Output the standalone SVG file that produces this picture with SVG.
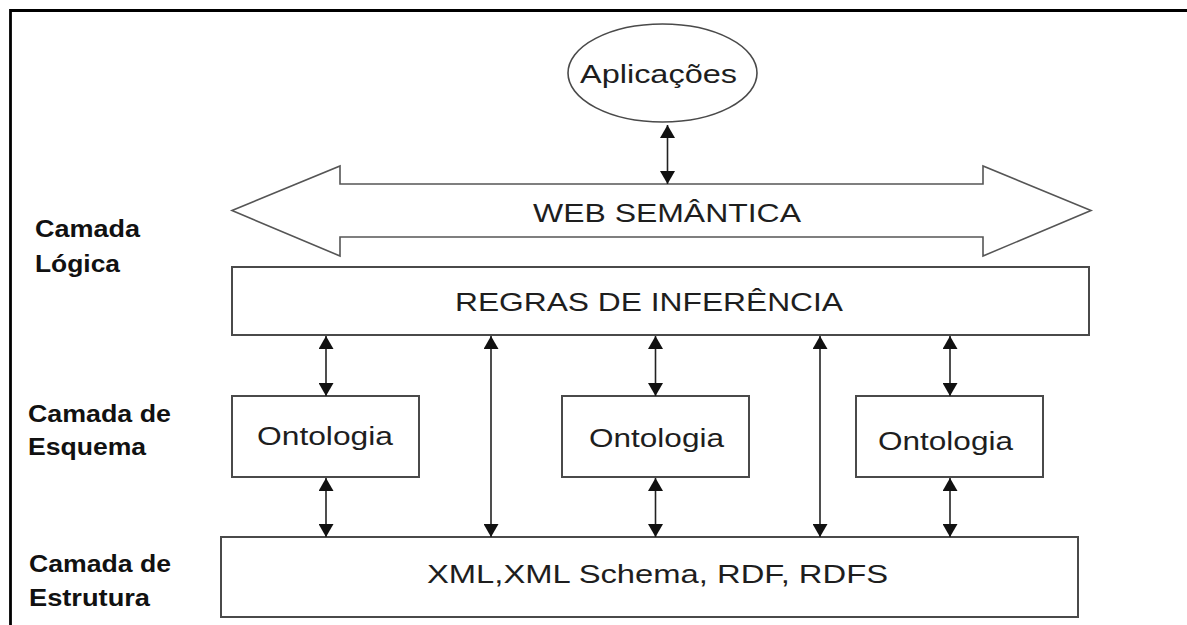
<svg xmlns="http://www.w3.org/2000/svg" width="1187" height="625" viewBox="0 0 1187 625">
  <style>
    .box { fill: #ffffff; stroke: #4a4a4a; stroke-width: 2; }
    .t { font-family: "Liberation Sans", Arial, sans-serif; font-size: 26px; fill: #1e1e1e; }
    .lbl { font-family: "Liberation Sans", Arial, sans-serif; font-size: 23px; font-weight: bold; fill: #111; }
    .conn { stroke: #222; stroke-width: 1.6; fill: none; marker-start: url(#ah); marker-end: url(#ah); }
  </style>
  <defs>
    <marker id="ah" viewBox="0 0 13 15" refX="13" refY="7.5" markerWidth="13" markerHeight="15" markerUnits="userSpaceOnUse" orient="auto-start-reverse">
      <path d="M0,0 L13,7.5 L0,15 z" fill="#111"/>
    </marker>
  </defs>
  <rect x="0" y="0" width="1187" height="625" fill="#ffffff"/>
  <!-- frame -->
  <path d="M10.5,625 L10.5,10.5 L1187,10.5" fill="none" stroke="#000" stroke-width="2.8"/>

  <!-- layer labels -->
  <g id="label-logica">
    <text class="lbl" x="35" y="237" textLength="105" lengthAdjust="spacingAndGlyphs">Camada</text>
    <text class="lbl" x="35" y="272" textLength="85" lengthAdjust="spacingAndGlyphs">Lógica</text>
  </g>
  <g id="label-esquema">
    <text class="lbl" x="28" y="422" textLength="143" lengthAdjust="spacingAndGlyphs">Camada de</text>
    <text class="lbl" x="28" y="455" textLength="118" lengthAdjust="spacingAndGlyphs">Esquema</text>
  </g>
  <g id="label-estrutura">
    <text class="lbl" x="29" y="572" textLength="142" lengthAdjust="spacingAndGlyphs">Camada de</text>
    <text class="lbl" x="29" y="606" textLength="121" lengthAdjust="spacingAndGlyphs">Estrutura</text>
  </g>

  <!-- nodes -->
  <g id="aplicacoes">
    <ellipse cx="662.5" cy="73" rx="94.5" ry="49" fill="#fff" stroke="#4a4a4a" stroke-width="1.6"/>
    <text class="t" x="580" y="83" textLength="157" lengthAdjust="spacingAndGlyphs">Aplicações</text>
  </g>
  <g id="web-semantica">
    <path d="M232,210.5 L340,166 L340,184 L983,184 L983,166 L1091,210.5 L983,256 L983,237 L340,237 L340,256 Z" fill="#fff" stroke="#555" stroke-width="1.6"/>
    <text class="t" x="533" y="222" textLength="268" lengthAdjust="spacingAndGlyphs">WEB SEMÂNTICA</text>
  </g>
  <g id="regras">
    <rect class="box" x="232" y="267" width="857" height="68"/>
    <text class="t" x="455" y="311" textLength="388" lengthAdjust="spacingAndGlyphs">REGRAS DE INFERÊNCIA</text>
  </g>
  <g id="ontologia-1">
    <rect class="box" x="232" y="396" width="187" height="81"/>
    <text class="t" x="257" y="445" textLength="136" lengthAdjust="spacingAndGlyphs">Ontologia</text>
  </g>
  <g id="ontologia-2">
    <rect class="box" x="562" y="396" width="187" height="81"/>
    <text class="t" x="589" y="447" textLength="135" lengthAdjust="spacingAndGlyphs">Ontologia</text>
  </g>
  <g id="ontologia-3">
    <rect class="box" x="856" y="396" width="187" height="81"/>
    <text class="t" x="878" y="450" textLength="135" lengthAdjust="spacingAndGlyphs">Ontologia</text>
  </g>
  <g id="xml">
    <rect class="box" x="221" y="537" width="857" height="80"/>
    <text class="t" x="427" y="583" textLength="461" lengthAdjust="spacingAndGlyphs">XML,XML Schema, RDF, RDFS</text>
  </g>

  <!-- connectors -->
  <g id="connectors">
    <line class="conn" x1="667.5" y1="125" x2="667.5" y2="184"/>
    <line class="conn" x1="326" y1="336" x2="326" y2="396"/>
    <line class="conn" x1="655.5" y1="336" x2="655.5" y2="396"/>
    <line class="conn" x1="950" y1="336" x2="950" y2="396"/>
    <line class="conn" x1="326" y1="478" x2="326" y2="537"/>
    <line class="conn" x1="655.5" y1="478" x2="655.5" y2="537"/>
    <line class="conn" x1="950" y1="478" x2="950" y2="537"/>
    <line class="conn" x1="491" y1="336" x2="491" y2="537"/>
    <line class="conn" x1="820" y1="336" x2="820" y2="537"/>
  </g>
</svg>
